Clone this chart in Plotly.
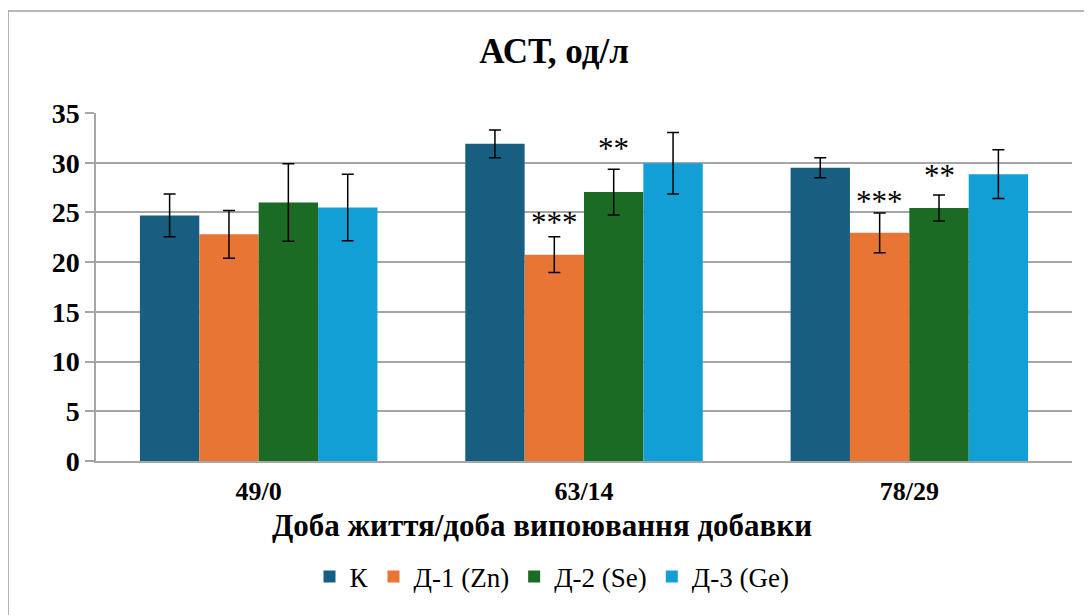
import plotly.graph_objects as go

categories = ["49/0", "63/14", "78/29"]
series_names = ["К", "Д-1 (Zn)", "Д-2 (Se)", "Д-3 (Ge)"]
k_vals = [24.7, 31.9, 29.5]
d1_vals = [22.8, 20.75, 22.95]
d2_vals = [26.0, 27.05, 25.45]
d3_vals = [25.5, 29.95, 28.85]
k_err = [2.15, 1.4, 1.0]
d1_err = [2.4, 1.8, 2.0]
d2_err = [3.9, 2.3, 1.3]
d3_err = [3.35, 3.1, 2.45]
colors = ["#175E81", "#E97535", "#1B6B24", "#129FD6"]

# significance marks: (category index, series index, label, y-value of glyph centre)
sig_cat = [1, 1, 2, 2]
sig_series = [1, 2, 1, 2]
sig_label = ["***", "**", "***", "**"]
sig_y = [24.0, 31.4, 26.1, 28.7]

values = [k_vals, d1_vals, d2_vals, d3_vals]
errors = [k_err, d1_err, d2_err, d3_err]

FONT = "Liberation Serif"
W, H = 1084, 607
L, R, T, B = 88, 20, 105, 154
PW, PH = W - L - R, H - T - B

fig = go.Figure()
for name, v, e, c in zip(series_names, values, errors, colors):
    fig.add_trace(go.Bar(
        name=name, x=categories, y=v, marker_color=c, marker_line_width=0,
        error_y=dict(type="data", array=e, visible=True, color="black",
                     thickness=1.5, width=6),
    ))

bargap = 0.27
bw = (1 - bargap) / 4
for ci, si, lab, yv in zip(sig_cat, sig_series, sig_label, sig_y):
    xpos = ci - (1 - bargap) / 2 + bw * (si + 0.5)
    fig.add_annotation(x=xpos, y=yv, text=lab, showarrow=False, xref="x", yref="y",
                       yanchor="middle", font=dict(family=FONT, size=31, color="black"))

# x-axis title (placed as annotation so it can sit left of plot centre, as in the original)
fig.add_annotation(text="<b>Доба життя/доба випоювання добавки</b>", showarrow=False,
                   xref="paper", yref="paper", x=(534 - L) / PW, y=-(517 - (T + PH)) / PH,
                   xanchor="center", yanchor="middle",
                   font=dict(family=FONT, size=31, color="black"))

fig.update_layout(
    width=W, height=H,
    margin=dict(l=L, r=R, t=T, b=B, autoexpand=False),
    paper_bgcolor="white", plot_bgcolor="white",
    barmode="group", bargap=bargap, bargroupgap=0,
    font=dict(family=FONT, color="black"),
    title=dict(text="<b>АСТ, од/л</b>", x=546 / W, xanchor="center",
               y=1 - 43 / H, yanchor="middle", yref="container",
               font=dict(family=FONT, size=35, color="black")),
    legend=dict(orientation="h", x=(544 - L) / PW, xanchor="center",
                y=-(577 - 8 - (T + PH)) / PH, yanchor="middle",
                font=dict(family=FONT, size=27, color="black"),
                traceorder="normal"),
    showlegend=True,
)
fig.update_xaxes(
    type="category", showline=True, linecolor="#A6A6A6", linewidth=1.5,
    ticks="", tickfont=dict(family=FONT, size=26, color="black"),
    tickprefix="<b>", ticksuffix="</b>", ticklabelstandoff=6,
    showgrid=False,
)
fig.update_yaxes(
    range=[0, 35], dtick=5, tick0=0, showline=True, linecolor="#A6A6A6", linewidth=1.5,
    ticks="outside", ticklen=9, tickcolor="#A6A6A6", tickwidth=1.5,
    showgrid=True, gridcolor="#A6A6A6", gridwidth=1.5, zeroline=False,
    tickfont=dict(family=FONT, size=28, color="black"),
    tickprefix="<b>", ticksuffix="</b>",
)
# outer chart border
fig.add_shape(type="rect", xref="paper", yref="paper",
              x0=(0 - L) / PW, x1=1.2, y0=-0.6, y1=(T + PH - 3) / PH,
              line=dict(color="#A0A0A0", width=1.5), fillcolor="rgba(0,0,0,0)", layer="below")

fig.write_html("out.html")
